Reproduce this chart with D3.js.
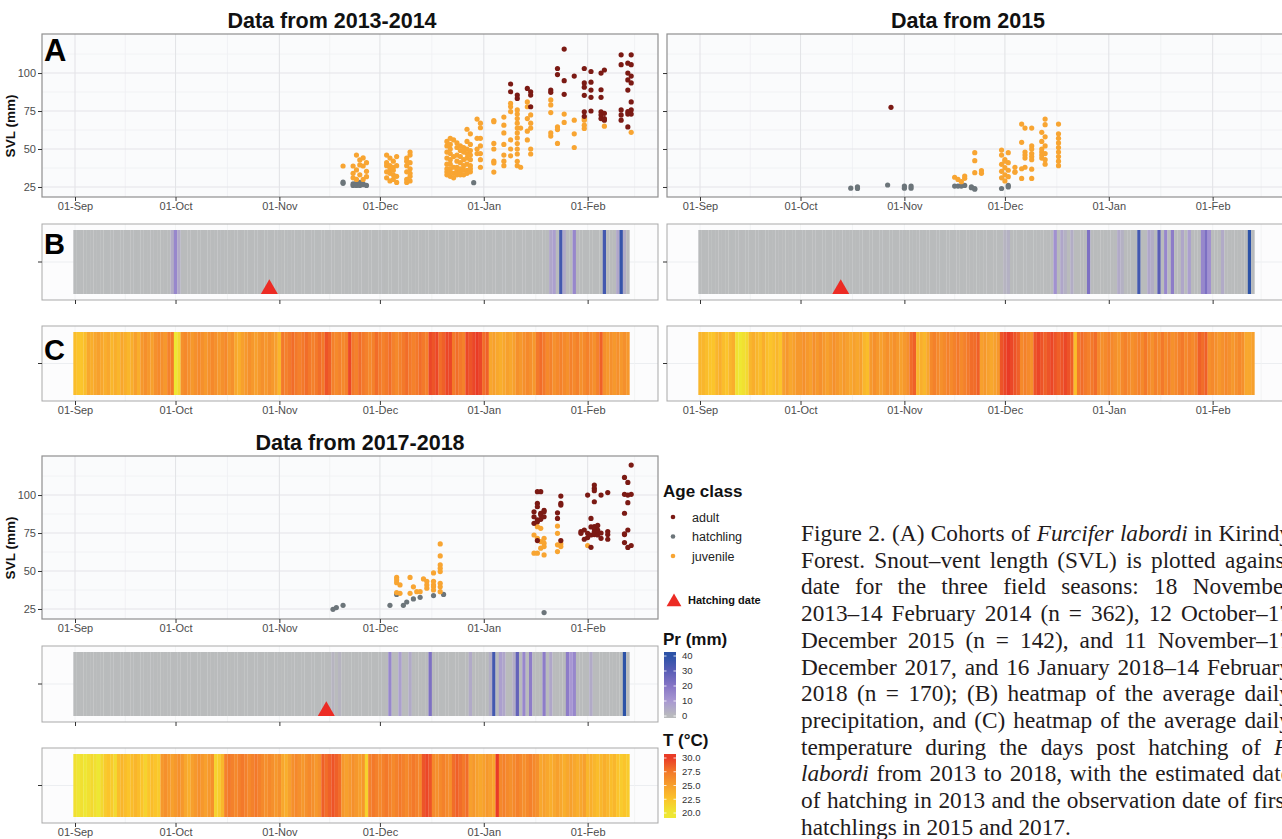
<!DOCTYPE html>
<html>
<head>
<meta charset="utf-8">
<script src="https://cdn.jsdelivr.net/npm/d3@7"></script>
<style>
  body { margin: 0; background: #fff; }
  svg { display: block; font-family: "Liberation Sans", Arial, sans-serif; }
</style>
</head>
<body>
<svg id="fig" width="1282" height="839"></svg>
<script>
// ---- data: SVL (mm) per survey date, grouped as [MM-DD, [values]] ----
const hatch2013 = [["11-20",[27.4,28.2]],["11-23",[26,27]],["11-24",[26,27.5]],["11-25",[26,28]],
  ["11-26",[26.5,27]],["11-27",[26]],["12-29",[27.8]]];
const juv2013 = [["11-20",[38.8]],["11-23",[38.8,34,31]],["11-24",[46,36.2,30]],["11-25",[42.8,33,39.5]],
  ["11-26",[44.1,38.8,30]],["11-27",[35.3,31.8,41]],["12-03",[46,41,35,31,39]],["12-04",[44,39,34,29,37]],
  ["12-05",[42,38,33,30,36]],["12-06",[45,39,32,28]],["12-09",[44,42,39,35,30,28]],["12-10",[48,46,41,37,34,32,29]],
  ["12-21",[55,52,48,44,40,37,35,33]],["12-22",[57,53,50,47,43,40,37,35,32]],["12-23",[56,45,38,34,31]],
  ["12-24",[54,51,46,42,38,36,34,33]],["12-25",[52,49,45,41,37,35,33]],["12-26",[51,48,43,39,36,33]],
  ["12-27",[63,55,50,47,44,40,36,34]],["12-28",[60,53,49,46,43,39,37,35]],["12-30",[69.7,57,50,47]],
  ["12-31",[67,64,57,52,47,43,38]],["01-04",[68.7,68,53.7,50,42,40.8,34.8]],["01-07",[71,65.7,60.6,53,46,42,39]],
  ["01-09",[80,77.8,74.6,56,50,45.5]],["01-11",[75.7,73,70,67,63.8,60.6,57.3,53.6,50,46.7,41.9,39]],
  ["01-12",[63.8,38]],["01-14",[81,77.8,70,61.7,56]],["01-15",[72.4,67,63.8,50,46.7]],
  ["01-21",[82.3,79,74,60.6,58.5]],["01-23",[64.5,62.8,53.7]],["01-25",[73,67.5]],["01-28",[69,60,51]],
  ["01-31",[70,69,65.7,63.5]],["02-06",[65]],["02-14",[61]]];
const adult2013 = [["01-09",[92.8,87.7]],["01-11",[85.5,83.3]],["01-14",[89.9]],["01-15",[87.7,85.5,77.8]],
  ["01-21",[88.8,87.3]],["01-23",[103,99]],["01-25",[115.8,95,86]],["01-28",[98]],
  ["01-31",[103,93.5,90.7,85.3,74.5,71.5]],["02-02",[101,94,88.8,84,75]],["02-05",[100,89,84,74.5,72.4,70]],
  ["02-06",[102,73.5,70,69]],["02-11",[112,105.5,75.7,72.4,69]],["02-13",[106.5,100,95.5,88.8,74.6,73,64.5]],
  ["02-14",[112,105.5,98,93.5,81,75.7,73]]];

const hatch2015 = [["10-16",[24.2]],["10-18",[25,24]],["10-27",[26.3]],["11-01",[25.6,24.2]],["11-03",[25.6,24.2]],
  ["11-16",[25.6]],["11-17",[25.6]],["11-18",[25.6]],["11-19",[26]],["11-21",[25,24.5]],["11-22",[24,23.5]],
  ["11-30",[24]],["12-02",[26,25]]];
const juv2015 = [["11-16",[31.4]],["11-17",[30]],["11-18",[28.5]],["11-19",[32.2,30.7]],["11-22",[47.6,42.3,34.4]],
  ["11-24",[35.7,34]],["11-30",[49.3,46,39.9,35.3,31]],["12-01",[43,42,37.7,33,29]],["12-02",[47.6,41,36,31.8]],
  ["12-04",[38,35,34.7]],["12-06",[66.4,54.4,37,30.6]],["12-07",[63.8,48,46,44,38]],
  ["12-09",[63.8,52,50,47,45,43,36.7,30.6]],["12-12",[61,55,50,48,46,44]],["12-13",[69.7,66,58,52,47,43,40]],
  ["12-17",[66.4,60,57,54,51,48,45,42,39]]];
const adult2015 = [["10-28",[77.4]]];

const hatch2017 = [["11-17",[24.8]],["11-18",[25.9]],["11-20",[27.4]],["12-04",[27.4]],["12-06",[34.6]],
  ["12-08",[27.4]],["12-09",[29.6]],["12-11",[31.6]],["12-13",[32.7]],["12-17",[33.8]],["12-20",[34.6]],["01-19",[22.6]]];
const juv2017 = [["12-06",[45.8,44.1,42.3,35.8]],["12-07",[40.8,35.3]],["12-10",[45.8,35.3]],["12-11",[39.6]],
  ["12-12",[36.4]],["12-13",[36.4]],["12-14",[44.8]],["12-15",[43.2,40.8,38.7]],["12-17",[48.7,43.2,40.8,39.6,37.5]],
  ["12-19",[67.8,59.9,54,51.8,49.6,41.9,39.6,36.4]],["01-16",[73.7,61.7]],["01-17",[79.2,71.5,61.7]],
  ["01-18",[78.1,69.4,65]],["01-19",[71.5,68.3,66.1,60.6]],["01-23",[79.6,74.8,67.2,62.8]],["01-24",[68,66.1]],
  ["02-01",[66.8]]];
const adult2017 = [["01-16",[89,85.7,81.4]],["01-17",[102.2,94.5,92.3,83.6,82.5,70]],["01-18",[102.2,88,87,84]],
  ["01-19",[90,89,85.7]],["01-23",[88.3,84.6]],["01-24",[99.3,94.5,93.4,70]],["01-30",[76,74.8]],["01-31",[77,70.9]],
  ["02-01",[100,74.8,72]],["02-02",[84.6,79,73.7,65.6]],["02-03",[106.6,104.4,102.9,95.6,79.2,78,76,74]],
  ["02-04",[80,77,75.5,73.7]],["02-05",[100,75,71.5]],["02-07",[101.6,76,74,70.9]],
  ["02-12",[111.6,100.5,88,74.5,74,68.7]],["02-13",[108.3,100,95,77,65.5]],["02-14",[119.7,100.5,66.8]]];

// daily mean temperature (°C), one value per day from 01-Sep
const temp2013 = [23,22.5,22.5,23, 24.5,24,24.5,25,24.5,24,24.5, 23.5,24,23.5,24.5,24,23.5,24,25,24,
  25.5,26,25.5,25,26,26.5,26,25.5,27,27.5, 20,21, 26,26.5,26,25.5,26,26.5,26,25.5,26,26.5,26,25.5,26,26.5,25.5,26,
  24.5,24,25, 25.5,26,25.5,25,25.5,26,25.5,26,25.5,25, 23.5, 27.5,27,27.5,28,27.5,27,27.5,28,27.5,27,27.5,28,27.5,
  29,28.5, 27,26.5,27,26.5,27, 29.5, 27.5,27,28,27.5,27,26.5,27,28,27.5,27,27.5,28,27,26.5,27,27.5,28,27.5,27,27.5,28,27.5,27,
  29.5,29,29.5, 28,28.5, 29.5,29.5, 27.5,28,27.5,27, 29.5,29,29.5,30,29.5, 28,28.5, 24.5,25,24.5,24,24.5,25,24.5,25,
  26,25.5,26,26.5,26,25.5, 27.5,28,27.5, 26.5,27,26,26.5,27,26.5,26,27,26.5,27,26,26.5,27,26.5,26,27, 28.5,
  26,25.5,26,25.5,26,25.5,26,25.5];
const temp2015 = [23.5,23.5,23, 22.5,22.5, 23.5,24,23,22.5,23.5,24, 20.5,20,20.5,21, 23.5,24,23.5,23,24,
  23,22.5,23,23.5,22.5, 25,25.5,24.5,25,25.5, 25.5,26,25.5,25,26,25.5,26,25.5,25,25.5,26,25.5,25,25.5,
  25,24.5,25,24.5,25, 23.5,23, 25.5,26,25.5,25,25.5,26,25.5,26,25.5,25,25.5,26, 28,28.5, 23.5,24,23.5,24.5,
  26.5,27,26.5,26,26.5,27,26.5,27,27.5,26.5,27,27.5,28, 28,28.5, 25,25.5,25,24.5,25,25.5, 29,29.5,30,29.5,29,28.5,
  26.5,27,26.5,26, 29,29.5,29,28.5,29,29.5,29,28.5,29,29.5,29,28.5, 23, 27.5,28,27.5,27,27.5,28,
  26.5,26,26.5,27,26.5,26,25.5,26.5,27,26.5,26, 26.5,27,26.5,27.5,26.5,26,27,26.5,27.5,26.5,27,26,26.5,27,27.5,26.5,27,26.5,27,
  28.5,28,28.5, 26,26.5,26,25.5,26,26.5,26,25.5,26,26.5,26, 24.5,24.5,25];
const temp2017 = [20.5,20,20.5,20,20.5,21,20.5,20,21, 22,22.5,22, 21, 23,23.5,23,22.5,23,23.5,23,22.5, 21.5,
  22.5,23,22.5,22, 25.5,26,25.5,25,25.5,26,25.5,24.5,24,25,25.5,26,25.5,25,25.5,26, 21.5,22,23.5,
  27,27.5,27,26.5,27,27.5,27,26.5,27,27.5,27,26.5, 26,26.5,26,25.5,26,24.5,24,25,26,26.5,26,25.5,26,26.5,26,25.5,26,
  28.5,28,28.5,29,28.5,28, 25.5,25,25.5,26,25.5,25,25.5, 21.5, 27,27.5,27,26.5,27,27.5,27,26.5,27,27.5,27,26.5,27,27.5,27,26.5,
  29,29.5,29, 26.5,26,26.5,27,26.5,26, 28,28.5,28,27.5,28, 25,25.5,25,24.5,25,25.5,25,24.5, 30,
  26.5,27,26.5,26,26.5,27,26.5,26,26.5,27,26.5,26, 24.5,25,24.5,24,24.5,25,24.5,24,24.5,25,24.5,24,24.5,25,
  23.5,24,23.5,23,23.5,24,23.5,23,23.5, 22.5,22,22.5,22];

// daily precipitation (mm) on rainy days; other days 0
const rain2013 = [["09-30",4],["10-01",15],["10-02",5],["01-21",6],["01-22",8],["01-24",35],["01-25",5],
  ["01-28",15],["02-06",35],["02-10",6],["02-11",38],["02-12",4]];
const rain2015 = [["12-01",2],["12-02",3],["12-16",12],["12-18",6],["12-19",3],["12-21",4],["12-26",22],
  ["01-04",5],["01-05",3],["01-10",35],["01-13",6],["01-14",4],["01-16",30],["01-18",15],["01-20",18],
  ["01-23",6],["01-25",8],["01-29",15],["01-30",22],["01-31",12],["02-04",5],["02-12",40]];
const rain2017 = [["11-17",2],["11-19",2],["12-04",15],["12-07",8],["12-10",5],["12-16",22],["12-28",5],
  ["01-03",4],["01-04",35],["01-06",8],["01-07",6],["01-10",4],["01-11",28],["01-13",15],["01-15",18],
  ["01-19",18],["01-21",6],["01-26",18],["01-27",10],["01-28",15],["02-02",5],["02-12",40]];

const hatchingDates = ["10-29", "10-13", "11-15"];
const svlTicks = [25, 50, 75, 100];
const prTicks = [0, 10, 20, 30, 40];
const tempTicks = [20, 22.5, 25, 27.5, 30];

const captionLines = [
  "Figure 2. (A) Cohorts of *Furcifer labordi* in Kirindy",
  "Forest. Snout–vent length (SVL) is plotted against",
  "date for the three field seasons: 18 November",
  "2013–14 February 2014 (n = 362), 12 October–17",
  "December 2015 (n = 142), and 11 November–17",
  "December 2017, and 16 January 2018–14 February",
  "2018 (n = 170); (B) heatmap of the average daily",
  "precipitation, and (C) heatmap of the average daily",
  "temperature during the days post hatching of *F.*",
  "*labordi* from 2013 to 2018, with the estimated date",
  "of hatching in 2013 and the observation date of first",
  "hatchlings in 2015 and 2017."
];

// ---- setup ----
const DAY = 864e5;
const svg = d3.select("#fig");
const L = {x0: 42, x1: 658, aTop: 34, aBot: 197, bTop: 224, bBot: 300, cTop: 326, cBot: 401, pad: 6};
const classColor = {adult: "#7b1a14", hatchling: "#6c757a", juvenile: "#f8a532"};
const prColor = d3.scaleLinear().domain(prTicks)
  .range(["#b9bbbc", "#a898d2", "#8675c6", "#5a5db6", "#2c52a7"]).clamp(true);
const tColor = d3.scaleLinear().domain(tempTicks)
  .range(["#eee733", "#fbc42b", "#f7a02d", "#f3792a", "#e93b26"]).clamp(true);

const seasons = [
  {title: "Data from 2013-2014", year: 2013, dx: 0, dy: 0, titleX: 332, yLabels: true, tags: true,
   temp: temp2013, rain: rain2013, hatch: hatchingDates[0],
   groups: [["hatchling", hatch2013], ["juvenile", juv2013], ["adult", adult2013]]},
  {title: "Data from 2015", year: 2015, dx: 625, dy: 0, titleX: 343, yLabels: false, tags: false,
   temp: temp2015, rain: rain2015, hatch: hatchingDates[1],
   groups: [["hatchling", hatch2015], ["juvenile", juv2015], ["adult", adult2015]]},
  {title: "Data from 2017-2018", year: 2017, dx: 0, dy: 422, titleX: 360, yLabels: true, tags: false,
   temp: temp2017, rain: rain2017, hatch: hatchingDates[2],
   groups: [["hatchling", hatch2017], ["juvenile", juv2017], ["adult", adult2017]]}
];

function toDate(md, year) {
  const [m, d] = md.split("-").map(Number);
  return new Date(m >= 7 ? year : year + 1, m - 1, d);
}

function xAxis(g, x, y, ticks, labels) {
  const a = g.append("g").attr("transform", `translate(0,${y})`)
    .call(d3.axisBottom(x).tickValues(ticks).tickSize(4).tickPadding(1.5)
      .tickFormat(labels ? d3.timeFormat("%d-%b") : ""));
  a.attr("font-family", null).attr("font-size", 11).attr("color", "#333");
  a.select(".domain").remove();
  a.selectAll("text").attr("fill", "#4d4d4d");
}

function drawSeason(s) {
  const g = svg.append("g").attr("transform", `translate(${s.dx},${s.dy})`);
  const start = new Date(s.year, 8, 1);
  const x = d3.scaleTime()
    .domain([new Date(+start - 9.85 * DAY), new Date(+start + 174 * DAY)])
    .range([L.x0, L.x1]);
  const majors = d3.timeMonth.range(start, new Date(s.year + 1, 2, 1));
  const ext = [d3.timeMonth.offset(start, -1), ...majors, new Date(s.year + 1, 2, 1)];
  const minors = d3.pairs(ext, (a, b) => new Date((+a + +b) / 2))
    .filter(d => x(d) > L.x0 && x(d) < L.x1);

  // title
  g.append("text").attr("x", s.titleX).attr("y", 28).attr("text-anchor", "middle")
    .attr("font-size", 21.5).attr("font-weight", "bold").attr("fill", "#111").text(s.title);

  // ---- panel A: scatter ----
  const y = d3.scaleLinear().domain([18.4, 125.7]).range([L.aBot, L.aTop]);
  g.append("rect").attr("x", L.x0).attr("y", L.aTop).attr("width", L.x1 - L.x0)
    .attr("height", L.aBot - L.aTop).attr("fill", "#fafbfc");
  g.append("g").selectAll("line").data(minors).join("line")
    .attr("x1", d => x(d)).attr("x2", d => x(d)).attr("y1", L.aTop).attr("y2", L.aBot)
    .attr("stroke", "#eff0f2").attr("stroke-width", 0.8);
  g.append("g").selectAll("line").data([37.5, 62.5, 87.5, 112.5]).join("line")
    .attr("x1", L.x0).attr("x2", L.x1).attr("y1", d => y(d)).attr("y2", d => y(d))
    .attr("stroke", "#eff0f2").attr("stroke-width", 0.8);
  g.append("g").selectAll("line").data(majors).join("line")
    .attr("x1", d => x(d)).attr("x2", d => x(d)).attr("y1", L.aTop).attr("y2", L.aBot)
    .attr("stroke", "#e3e4e7").attr("stroke-width", 1.1);
  g.append("g").selectAll("line").data(svlTicks).join("line")
    .attr("x1", L.x0).attr("x2", L.x1).attr("y1", d => y(d)).attr("y2", d => y(d))
    .attr("stroke", "#e3e4e7").attr("stroke-width", 1.1);

  s.groups.forEach(([cls, rows]) => {
    const pts = rows.flatMap(([md, vals]) => vals.map(v => ({date: toDate(md, s.year), v})));
    g.append("g").selectAll("circle").data(pts).join("circle")
      .attr("cx", d => x(d.date)).attr("cy", d => y(d.v)).attr("r", 2.6)
      .attr("fill", classColor[cls]);
  });
  g.append("rect").attr("x", L.x0).attr("y", L.aTop).attr("width", L.x1 - L.x0)
    .attr("height", L.aBot - L.aTop).attr("fill", "none").attr("stroke", "#8f8f8f").attr("stroke-width", 1.2);

  const ya = g.append("g").attr("transform", `translate(${L.x0},0)`)
    .call(d3.axisLeft(y).tickValues(svlTicks).tickSize(4).tickPadding(2)
      .tickFormat(s.yLabels ? d3.format("d") : ""));
  ya.attr("font-family", null).attr("font-size", 11).attr("color", "#333");
  ya.select(".domain").remove();
  ya.selectAll("text").attr("fill", "#4d4d4d");
  xAxis(g, x, L.aBot, majors, true);

  if (s.yLabels) {
    g.append("text").attr("transform", `translate(15,126) rotate(-90)`).attr("text-anchor", "middle")
      .attr("font-size", 13.5).attr("font-weight", "bold").attr("fill", "#111").text("SVL (mm)");
  }

  // ---- panels B and C: daily heatmaps ----
  const rainMap = new Map(s.rain.map(([md, mm]) => [+toDate(md, s.year), mm]));
  const days = s.temp.map((t, i) => {
    const d = d3.timeDay.offset(start, i);
    return {d, t, pr: rainMap.get(+d) || 0};
  });

  [[L.bTop, L.bBot, d => prColor(d.pr)], [L.cTop, L.cBot, d => tColor(d.t)]].forEach(([top, bot, fill], k) => {
    const mid = (top + bot) / 2;
    g.append("rect").attr("x", L.x0).attr("y", top).attr("width", L.x1 - L.x0).attr("height", bot - top)
      .attr("fill", "#fcfcfd");
    g.append("line").attr("x1", L.x0).attr("x2", L.x1).attr("y1", mid).attr("y2", mid)
      .attr("stroke", "#eceef1").attr("stroke-width", 1);
    g.append("g").selectAll("line").data(minors.concat(majors)).join("line")
      .attr("x1", d => x(d)).attr("x2", d => x(d)).attr("y1", top).attr("y2", bot)
      .attr("stroke", "#f0f1f3").attr("stroke-width", 0.8);
    g.append("g").selectAll("rect").data(days).join("rect")
      .attr("x", d => x(new Date(+d.d - DAY / 2)))
      .attr("width", d => x(new Date(+d.d + DAY / 2)) - x(new Date(+d.d - DAY / 2)) + 0.15)
      .attr("y", top + L.pad).attr("height", bot - top - 2 * L.pad)
      .attr("fill", fill);
    g.append("rect").attr("x", L.x0).attr("y", top).attr("width", L.x1 - L.x0).attr("height", bot - top)
      .attr("fill", "none").attr("stroke", "#a9a9a9").attr("stroke-width", 1);
    g.append("line").attr("x1", L.x0 - 4).attr("x2", L.x0).attr("y1", mid).attr("y2", mid)
      .attr("stroke", "#333");
    xAxis(g, x, bot, majors, k === 1);
  });

  // hatching date marker
  g.append("path").attr("d", d3.symbol(d3.symbolTriangle, 125)())
    .attr("transform", `translate(${x(toDate(s.hatch, s.year))},${L.bBot - L.pad - 4.9})`)
    .attr("fill", "#ec2b24");

  if (s.tags) {
    [["A", 61, 31], ["B", 254, 29], ["C", 360, 29]].forEach(([t, yy, fs]) => {
      g.append("text").attr("x", 44).attr("y", yy).attr("font-size", fs).attr("font-weight", "bold")
        .attr("fill", "#000").text(t);
    });
  }
}

seasons.forEach(drawSeason);

// ---- legends ----
const lg = svg.append("g");
lg.append("text").attr("x", 663).attr("y", 497).attr("font-size", 17).attr("font-weight", "bold")
  .attr("fill", "#111").text("Age class");
["adult", "hatchling", "juvenile"].forEach((c, i) => {
  const yy = 517 + i * 19.5;
  lg.append("circle").attr("cx", 673).attr("cy", yy).attr("r", 2.3).attr("fill", classColor[c]);
  lg.append("text").attr("x", 692).attr("y", yy + 4.5).attr("font-size", 12.5).attr("fill", "#222").text(c);
});
lg.append("path").attr("d", d3.symbol(d3.symbolTriangle, 95)()).attr("transform", "translate(674,602)")
  .attr("fill", "#ec2b24");
lg.append("text").attr("x", 688).attr("y", 604).attr("font-size", 11).attr("font-weight", "bold")
  .attr("fill", "#111").text("Hatching date");

function colorbar(title, titleY, top, bot, ticks, scale, labelY, fmt, id) {
  const lo = labelY.invert(bot), hi = labelY.invert(top);
  const grad = svg.append("defs").append("linearGradient").attr("id", id)
    .attr("x1", 0).attr("y1", 1).attr("x2", 0).attr("y2", 0);
  d3.range(0, 1.0001, 0.05).forEach(f => {
    grad.append("stop").attr("offset", f).attr("stop-color", scale(lo + f * (hi - lo)));
  });
  lg.append("text").attr("x", 663).attr("y", titleY).attr("font-size", 17).attr("font-weight", "bold")
    .attr("fill", "#111").text(title);
  lg.append("rect").attr("x", 664).attr("y", top).attr("width", 12).attr("height", bot - top)
    .attr("fill", `url(#${id})`);
  ticks.forEach(t => {
    lg.append("line").attr("x1", 664).attr("x2", 666.5).attr("y1", labelY(t)).attr("y2", labelY(t))
      .attr("stroke", "#fff").attr("stroke-opacity", 0.8);
    lg.append("line").attr("x1", 673.5).attr("x2", 676).attr("y1", labelY(t)).attr("y2", labelY(t))
      .attr("stroke", "#fff").attr("stroke-opacity", 0.8);
    lg.append("text").attr("x", 682).attr("y", labelY(t) + 3.4).attr("font-size", 9.5)
      .attr("fill", "#333").text(fmt(t));
  });
}
colorbar("Pr (mm)", 645, 652, 718, prTicks, prColor,
  d3.scaleLinear().domain([0, 40]).range([716, 656]), d3.format("d"), "prGrad");
colorbar("T (°C)", 746, 754, 818, tempTicks, tColor,
  d3.scaleLinear().domain([20, 30]).range([813, 758]), d3.format(".1f"), "tGrad");

// ---- caption (justified lines, cut at the right edge as in the page) ----
const cap = svg.append("g").attr("font-family", "'Liberation Serif', 'Times New Roman', serif")
  .attr("fill", "#1f1b1c");
const capX = 801, capW = 490, lineH = 26.7;
function capLine(line, i, fs) {
  const t = cap.append("text").attr("x", capX).attr("y", 541 + i * lineH).attr("font-size", fs);
  line.split(/(\*[^*]+\*)/).filter(p => p).forEach(p => {
    const it = p.startsWith("*");
    t.append("tspan").attr("font-style", it ? "italic" : null).text(it ? p.slice(1, -1) : p);
  });
  return t;
}
const probe = capLine(captionLines[0], 0, 20);
const fs = Math.max(18, Math.min(25, 20 * (capW - 4) / probe.node().getComputedTextLength()));
probe.remove();
captionLines.forEach((line, i) => {
  const t = capLine(line, i, fs);
  if (i < captionLines.length - 1) {
    const gaps = (line.match(/ /g) || []).length;
    t.attr("word-spacing", (capW - t.node().getComputedTextLength()) / gaps);
  }
});
</script>
</body>
</html>
